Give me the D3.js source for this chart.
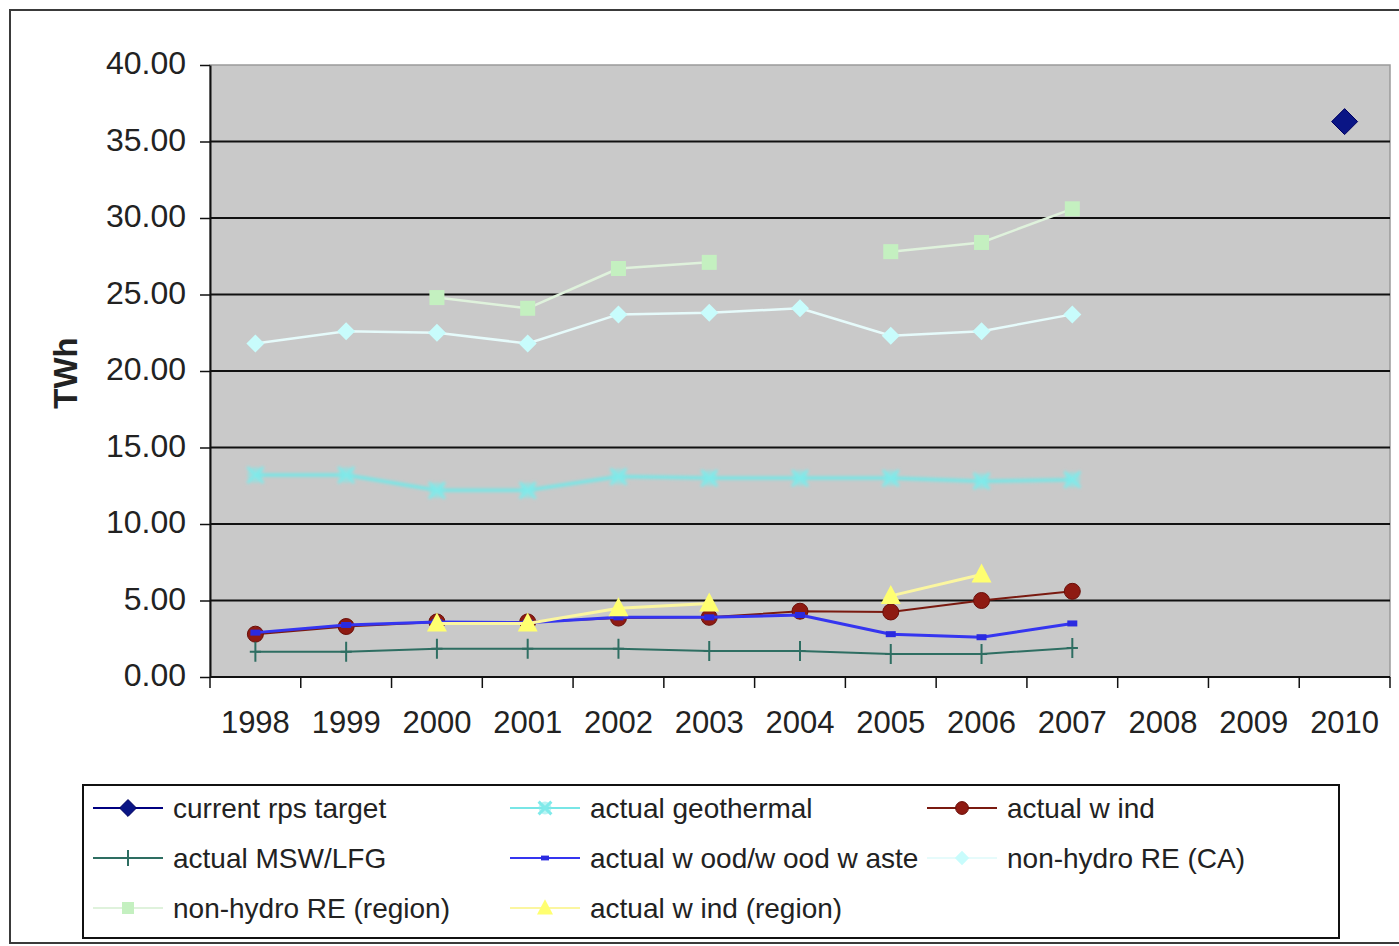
<!DOCTYPE html>
<html>
<head>
<meta charset="utf-8">
<script src="https://cdn.jsdelivr.net/npm/d3@7"></script>
<style>
  html, body { margin: 0; padding: 0; background: #ffffff; }
  svg { display: block; }
  text { font-family: "Liberation Sans", Arial, sans-serif; fill: #222; }
</style>
</head>
<body>
<svg id="chart" width="1399" height="946"></svg>
<script>
// Years on the category axis
const years = ["1998","1999","2000","2001","2002","2003","2004","2005","2006","2007","2008","2009","2010"];

// Generation by source, TWh (null = no value for that year)
const rpsTarget      = [null, null, null, null, null, null, null, null, null, null, null, null, 36.3];
const geothermal     = [13.2, 13.2, 12.2, 12.2, 13.1, 13.0, 13.0, 13.0, 12.8, 12.9, null, null, null];
const wind           = [2.8, 3.3, 3.6, 3.6, 3.85, 3.9, 4.3, 4.25, 5.0, 5.6, null, null, null];
const mswLfg         = [1.65, 1.65, 1.85, 1.85, 1.85, 1.7, 1.7, 1.5, 1.5, 1.9, null, null, null];
const woodWaste      = [2.9, 3.4, 3.6, 3.55, 3.9, 3.9, 4.05, 2.8, 2.6, 3.5, null, null, null];
const nonHydroCA     = [21.8, 22.6, 22.5, 21.8, 23.7, 23.8, 24.1, 22.3, 22.6, 23.7, null, null, null];
const nonHydroRegion = [null, null, 24.8, 24.1, 26.7, 27.1, null, 27.8, 28.4, 30.6, null, null, null];
const windRegion     = [null, null, 3.5, 3.5, 4.5, 4.8, null, 5.3, 6.7, null, null, null, null];

// Axis tick values
const yTicks = [0, 5, 10, 15, 20, 25, 30, 35, 40];

const seriesNames = [
  "current rps target", "actual geothermal", "actual w ind",
  "actual MSW/LFG", "actual w ood/w ood w aste", "non-hydro RE (CA)",
  "non-hydro RE (region)", "actual w ind (region)"
];

const series = [
  { name: seriesNames[0], values: rpsTarget,      line: "#000080", fill: "#0a1585", stroke: "#000060", marker: "diamondBig", width: 2 },
  { name: seriesNames[1], values: geothermal,     line: "#78e6e6", fill: "#80eaea", stroke: "#80eaea", marker: "x",       width: 3.5, soft: true },
  { name: seriesNames[2], values: wind,           line: "#7a1a10", fill: "#8e1a12", stroke: "#6a0e08", marker: "circle",  width: 2 },
  { name: seriesNames[3], values: mswLfg,         line: "#2e6e62", fill: "none",    stroke: "#2e6e62", marker: "plus",    width: 2 },
  { name: seriesNames[4], values: woodWaste,      line: "#3535f0", fill: "#2a2ae0", stroke: "#2a2ae0", marker: "dash",    width: 3 },
  { name: seriesNames[5], values: nonHydroCA,     line: "#e6fbfb", fill: "#c8fcfc", stroke: "#c8fcfc", marker: "diamond", width: 2.5 },
  { name: seriesNames[6], values: nonHydroRegion, line: "#dff2dc", fill: "#c4f0c0", stroke: "#c4f0c0", marker: "square",  width: 2.5 },
  { name: seriesNames[7], values: windRegion,     line: "#fbf6a0", fill: "#ffff70", stroke: "#ffff70", marker: "triangle",width: 3 }
];

const svg = d3.select("#chart");

// Soft-edge filter for the geothermal trace
const defs = svg.append("defs");
defs.append("filter").attr("id", "soft")
  .attr("x", "-5%").attr("y", "-50%").attr("width", "110%").attr("height", "200%")
  .append("feGaussianBlur").attr("stdDeviation", 1.4);

// Outer chart frame
svg.append("rect")
  .attr("x", 10).attr("y", 10).attr("width", 1400).attr("height", 933)
  .attr("fill", "#fff").attr("stroke", "#3a3a3a").attr("stroke-width", 2);

const plot = { left: 210, right: 1390, top: 65, bottom: 677 };

const x = d3.scaleBand().domain(years).range([plot.left, plot.right]).padding(0);
const y = d3.scaleLinear().domain([0, 40]).range([plot.bottom, plot.top]);
const cx = d => x(d) + x.bandwidth() / 2;

// Plot area
svg.append("rect")
  .attr("x", plot.left).attr("y", plot.top)
  .attr("width", plot.right - plot.left).attr("height", plot.bottom - plot.top)
  .attr("fill", "#c9c9c9").attr("stroke", "#9a9a9a").attr("stroke-width", 1.5);

// Horizontal gridlines
svg.append("g").selectAll("line")
  .data(yTicks.filter(t => t > 0 && t < 40))
  .join("line")
  .attr("x1", plot.left).attr("x2", plot.right)
  .attr("y1", d => y(d)).attr("y2", d => y(d))
  .attr("stroke", "#111").attr("stroke-width", 2);

// Y axis
const yAxis = svg.append("g")
  .attr("transform", `translate(${plot.left},0)`)
  .call(d3.axisLeft(y).tickValues(yTicks).tickFormat(d3.format(".2f")).tickSize(10).tickSizeOuter(0).tickPadding(14));
yAxis.select(".domain").attr("stroke", "#111").attr("stroke-width", 2);
yAxis.selectAll(".tick line").attr("stroke", "#111").attr("stroke-width", 1.5);
yAxis.selectAll(".tick text")
  .attr("font-size", 32).attr("fill", "#222").attr("dy", "0.28em")
  .style("font-family", "'Liberation Sans', Arial, sans-serif");

// X axis: ticks sit on category boundaries
const xAxis = svg.append("g").attr("transform", `translate(0,${plot.bottom})`);
xAxis.append("line")
  .attr("x1", plot.left).attr("x2", plot.right)
  .attr("y1", 0).attr("y2", 0)
  .attr("stroke", "#111").attr("stroke-width", 2);
const bounds = years.map(d => x(d)).concat([x(years[years.length - 1]) + x.bandwidth()]);
xAxis.selectAll("line.tick")
  .data(bounds)
  .join("line").attr("class", "tick")
  .attr("x1", d => d).attr("x2", d => d)
  .attr("y1", 0).attr("y2", 11)
  .attr("stroke", "#111").attr("stroke-width", 1.5);
xAxis.selectAll("text")
  .data(years)
  .join("text")
  .attr("x", d => cx(d)).attr("y", 56)
  .attr("text-anchor", "middle")
  .attr("font-size", 31)
  .text(d => d);

// Y axis title
svg.append("text")
  .attr("transform", "translate(77,373) rotate(-90)")
  .attr("text-anchor", "middle")
  .attr("font-size", 33).attr("font-weight", "bold")
  .text("TWh");

// Marker drawing
function drawMarker(g, s, px, py, scale) {
  const k = scale || 1;
  switch (s.marker) {
    case "diamondBig": {
      const r = 13 * k;
      g.append("path").attr("d", `M${px},${py - r}L${px + r},${py}L${px},${py + r}L${px - r},${py}Z`)
        .attr("fill", s.fill).attr("stroke", s.stroke).attr("stroke-width", 1);
      break;
    }
    case "diamond": {
      const r = 9 * k;
      g.append("path").attr("d", `M${px},${py - r}L${px + r},${py}L${px},${py + r}L${px - r},${py}Z`)
        .attr("fill", s.fill);
      break;
    }
    case "x": {
      const r = 8 * k;
      g.append("circle").attr("cx", px).attr("cy", py).attr("r", 8 * k).attr("fill", s.fill).attr("opacity", 0.55);
      g.append("path").attr("d", `M${px - r},${py - r}L${px + r},${py + r}M${px - r},${py + r}L${px + r},${py - r}`)
        .attr("stroke", s.stroke).attr("stroke-width", 3);
      break;
    }
    case "circle":
      g.append("circle").attr("cx", px).attr("cy", py).attr("r", 8 * k)
        .attr("fill", s.fill).attr("stroke", s.stroke).attr("stroke-width", 1);
      break;
    case "plus": {
      const r = 8 * k;
      g.append("path").attr("d", `M${px - r * 0.7},${py}L${px + r * 0.7},${py}M${px},${py - r * 1.25}L${px},${py + r * 1.25}`)
        .attr("stroke", s.stroke).attr("stroke-width", 2);
      break;
    }
    case "dash":
      g.append("rect").attr("x", px - 5 * k).attr("y", py - 3 * k).attr("width", 10 * k).attr("height", 6 * k)
        .attr("fill", s.fill);
      break;
    case "square": {
      const r = 7.5 * k;
      g.append("rect").attr("x", px - r).attr("y", py - r).attr("width", 2 * r).attr("height", 2 * r)
        .attr("fill", s.fill);
      break;
    }
    case "triangle": {
      const r = 10 * k;
      g.append("path").attr("d", `M${px},${py - r * 1.1}L${px + r},${py + r * 0.8}L${px - r},${py + r * 0.8}Z`)
        .attr("fill", s.fill);
      break;
    }
  }
}

// Series lines and markers
const line = d3.line()
  .defined(d => d.v !== null)
  .x(d => cx(d.year))
  .y(d => y(d.v));

const marks = svg.append("g");
series.forEach(s => {
  const pts = years.map((yr, i) => ({ year: yr, v: s.values[i] }));
  const g = marks.append("g");
  if (s.soft) g.attr("filter", "url(#soft)");
  g.append("path")
    .datum(pts)
    .attr("d", line)
    .attr("fill", "none")
    .attr("stroke", s.line)
    .attr("stroke-width", s.width)
    .attr("stroke-linejoin", "round");
  pts.filter(p => p.v !== null).forEach(p => drawMarker(g, s, cx(p.year), y(p.v)));
});

// Legend
const legend = svg.append("g");
legend.append("rect")
  .attr("x", 83).attr("y", 785).attr("width", 1256).attr("height", 153)
  .attr("fill", "#fff").attr("stroke", "#111").attr("stroke-width", 2);

const colX = [93, 510, 927];
const rowY = [808, 858, 908];
series.forEach((s, i) => {
  const col = i % 3, row = Math.floor(i / 3);
  const lx = colX[col], ly = rowY[row];
  const g = legend.append("g");
  g.append("line")
    .attr("x1", lx).attr("x2", lx + 70)
    .attr("y1", ly).attr("y2", ly)
    .attr("stroke", s.line).attr("stroke-width", 2);
  drawMarker(g, s, lx + 35, ly, s.marker === "diamondBig" ? 0.65 : 0.8);
  g.append("text")
    .attr("x", lx + 80).attr("y", ly)
    .attr("dy", "0.35em")
    .attr("font-size", 28)
    .text(s.name);
});
</script>
</body>
</html>
